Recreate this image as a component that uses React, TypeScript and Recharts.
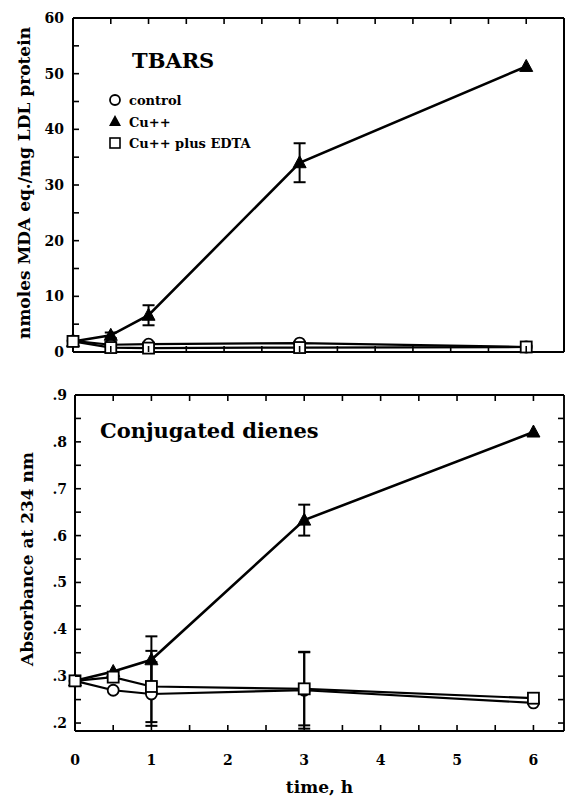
import React from 'react';
import { ComposedChart, Line, XAxis, YAxis, ErrorBar } from 'recharts';

// ---- data ----
const times = [0, 0.5, 1, 3, 6];

const tbarsControl = [2.0, 1.3, 1.4, 1.6, 0.9];
const tbarsCu = [1.9, 3.0, 6.6, 34.0, 51.3];
const tbarsEdta = [1.9, 0.8, 0.7, 0.8, 0.9];
const tbarsCuErr = [0, 0.5, 1.8, 3.5, 0];

const dienesControl = [0.29, 0.27, 0.262, 0.27, 0.243];
const dienesCu = [0.29, 0.31, 0.335, 0.633, 0.821];
const dienesEdta = [0.29, 0.298, 0.278, 0.273, 0.253];
const dienesControlErr = [0, 0, 0.068, 0.082, 0];
const dienesCuErr = [0, 0, 0.05, 0.033, 0];
const dienesEdtaErr = [0, 0, 0.076, 0.078, 0];

const timeTicks = [0, 0.5, 1, 1.5, 2, 2.5, 3, 3.5, 4, 4.5, 5, 5.5, 6];
const tbarsTicks = [0, 5, 10, 15, 20, 25, 30, 35, 40, 45, 50, 55, 60];
const dienesTicks = [0.2, 0.25, 0.3, 0.35, 0.4, 0.45, 0.5, 0.55, 0.6, 0.65, 0.7, 0.75, 0.8, 0.85, 0.9];

const seriesNames = ['control', 'Cu++', 'Cu++ plus EDTA'];
const titles = ['TBARS', 'Conjugated dienes'];
const yLabels = ['nmoles MDA eq./mg LDL protein', 'Absorbance at 234 nm'];
const xLabel = 'time, h';

const tbarsData = times.map((t, i) => ({
  t,
  control: tbarsControl[i],
  cu: tbarsCu[i],
  edta: tbarsEdta[i],
  cuErr: tbarsCuErr[i],
}));

const dienesData = times.map((t, i) => ({
  t,
  control: dienesControl[i],
  cu: dienesCu[i],
  edta: dienesEdta[i],
  controlErr: dienesControlErr[i],
  cuErr: dienesCuErr[i],
  edtaErr: dienesEdtaErr[i],
}));

const tbarsX: [number, number] = [0, 6.5];
const tbarsY: [number, number] = [0, 60];
const dienesX: [number, number] = [0, 6.4];
const dienesY: [number, number] = [0.183, 0.9];

const FONT = '"DejaVu Serif", serif';
const labelStyle = { fontFamily: FONT, fontWeight: 700, fontSize: 14, fill: '#000' };
const INK = '#000';
const TL = 6;

// inward tick + label, rendered by the axis itself
const TickMark = (props: any) => {
  const { x, y, payload, side, fmt, gap } = props;
  const label = fmt ? fmt(payload.value) : '';
  const X = Number(x);
  const Y = Number(y);
  if (side === 'left') {
    return (
      <g>
        <line x1={X} y1={Y} x2={X + TL} y2={Y} stroke={INK} strokeWidth={1.6} />
        {label ? (
          <text x={X - gap} y={Y} textAnchor="end" dominantBaseline="central" style={labelStyle}>
            {label}
          </text>
        ) : null}
      </g>
    );
  }
  if (side === 'right') {
    return <line x1={X} y1={Y} x2={X - TL} y2={Y} stroke={INK} strokeWidth={1.6} />;
  }
  if (side === 'bottom') {
    return (
      <g>
        <line x1={X} y1={Y} x2={X} y2={Y - TL} stroke={INK} strokeWidth={1.6} />
        {label ? (
          <text x={X} y={Y + gap} textAnchor="middle" dominantBaseline="central" style={labelStyle}>
            {label}
          </text>
        ) : null}
      </g>
    );
  }
  return <line x1={X} y1={Y} x2={X} y2={Y + TL} stroke={INK} strokeWidth={1.6} />;
};

const CircleDot = (p: any) =>
  p.cx == null ? null : (
    <circle key={`c${p.index}`} cx={p.cx} cy={p.cy} r={5.5} fill="#fff" stroke="#000" strokeWidth={1.8} />
  );
const TriDot = (p: any) =>
  p.cx == null ? null : (
    <polygon
      key={`t${p.index}`}
      points={`${p.cx},${p.cy - 7} ${p.cx - 6.5},${p.cy + 5} ${p.cx + 6.5},${p.cy + 5}`}
      fill="#000"
      stroke="#000"
      strokeWidth={1}
    />
  );
const SquareDot = (p: any) =>
  p.cx == null ? null : (
    <rect key={`s${p.index}`} x={p.cx - 5.5} y={p.cy - 5.5} width={11} height={11} fill="#fff" stroke="#000" strokeWidth={1.8} />
  );

const YLabel = (props: any) => {
  const vb = props.viewBox || {};
  const cx = vb.x + props.px;
  const cy = vb.y + vb.height / 2 + props.py;
  return (
    <text
      x={cx}
      y={cy}
      transform={`rotate(-90 ${cx} ${cy})`}
      textAnchor="middle"
      dominantBaseline="central"
      style={{ fontFamily: FONT, fontWeight: 700, fontSize: props.fs, fill: '#000' }}
    >
      {props.value}
    </text>
  );
};

const isInt = (v: number) => Math.abs(v - Math.round(v)) < 1e-6;
const fmtTbars = (v: number) => (isInt(v / 10) ? String(v) : '');
const fmtDienes = (v: number) => (isInt(v * 10) ? v.toFixed(1).replace(/^0/, '') : '');
const fmtTime = (v: number) => (isInt(v) ? String(v) : '');

const LegendBlock = () => (
  <g style={{ fontFamily: FONT, fontWeight: 700, fontSize: 13 }}>
    <circle cx={115} cy={100} r={5} fill="#fff" stroke="#000" strokeWidth={1.8} />
    <text x={129} y={105} fill="#000">{seriesNames[0]}</text>
    <polygon points="115,115 109,126 121,126" fill="#000" />
    <text x={129} y={127} fill="#000">{seriesNames[1]}</text>
    <rect x={110} y={138} width={10} height={10} fill="#fff" stroke="#000" strokeWidth={1.6} />
    <text x={129} y={148} fill="#000">{seriesNames[2]}</text>
  </g>
);

// Plot-area frame (box around each panel)
const Frame = (p: { x: number; y: number; w: number; h: number; rw: number }) => (
  <g>
    <line x1={p.x} y1={p.y} x2={p.x + p.w} y2={p.y} stroke={INK} strokeWidth={2} />
    <line x1={p.x + p.w} y1={p.y} x2={p.x + p.w} y2={p.y + p.h} stroke={INK} strokeWidth={p.rw} />
    <line x1={p.x} y1={p.y + p.h} x2={p.x + p.w} y2={p.y + p.h} stroke={INK} strokeWidth={2} />
  </g>
);

const frameAxes = (xd: [number, number], yd: [number, number], yt: number[], allow: boolean) => [
  <XAxis
    key="xt"
    xAxisId="top"
    orientation="top"
    dataKey="t"
    type="number"
    domain={xd}
    ticks={timeTicks}
    interval={0}
    height={1}
    axisLine={{ stroke: INK, strokeWidth: 2 }}
    tickLine={false}
    tickSize={0}
    tickMargin={0}
    tick={<TickMark side="top" />}
  />,
  <YAxis
    key="yr"
    yAxisId="right"
    orientation="right"
    type="number"
    domain={yd}
    ticks={yt}
    interval={0}
    width={1}
    allowDataOverflow={allow}
    axisLine={{ stroke: INK, strokeWidth: 1.5 }}
    tickLine={false}
    tickSize={0}
    tickMargin={0}
    tick={<TickMark side="right" />}
  />,
];

export default function App() {
  return (
    <div style={{ position: 'absolute', left: 0, top: 0, width: 566, height: 797, background: '#fff' }}>
      <div style={{ position: 'absolute', left: 0, top: 0 }}>
        <ComposedChart width={566} height={380} data={tbarsData} margin={{ top: 17, right: 1, bottom: 0, left: 0 }}>
          <XAxis
            dataKey="t"
            type="number"
            domain={tbarsX}
            ticks={timeTicks}
            interval={0}
            height={28}
            axisLine={{ stroke: INK, strokeWidth: 2 }}
            tickLine={false}
            tickSize={0}
            tickMargin={0}
            tick={<TickMark side="bottom" />}
          />
          <YAxis
            type="number"
            domain={tbarsY}
            ticks={tbarsTicks}
            interval={0}
            width={73}
            axisLine={{ stroke: INK, strokeWidth: 2 }}
            tickLine={false}
            tickSize={0}
            tickMargin={0}
            tick={<TickMark side="left" fmt={fmtTbars} gap={9} />}
            label={<YLabel value={yLabels[0]} px={24} py={-2} fs={17} />}
          />
          {frameAxes(tbarsX, tbarsY, tbarsTicks, false)}
          <Frame x={73} y={18} w={491} h={334} rw={2} />
          <Line dataKey="control" stroke="#000" strokeWidth={2.2} dot={CircleDot} isAnimationActive={false} />
          <Line dataKey="cu" stroke="#000" strokeWidth={2.6} dot={TriDot} isAnimationActive={false}>
            <ErrorBar dataKey="cuErr" width={6} stroke="#000" strokeWidth={2} />
          </Line>
          <Line dataKey="edta" stroke="#000" strokeWidth={2.2} dot={SquareDot} isAnimationActive={false} />
          <text x={132} y={68} style={{ fontFamily: FONT, fontWeight: 700, fontSize: 21 }} fill="#000">
            {titles[0]}
          </text>
          <LegendBlock />
        </ComposedChart>
      </div>
      <div style={{ position: 'absolute', left: 0, top: 380 }}>
        <ComposedChart width={566} height={417} data={dienesData} margin={{ top: 14, right: 1, bottom: 0, left: 0 }}>
          <XAxis
            dataKey="t"
            type="number"
            domain={dienesX}
            ticks={timeTicks}
            interval={0}
            height={66}
            axisLine={{ stroke: INK, strokeWidth: 2 }}
            tickLine={false}
            tickSize={0}
            tickMargin={0}
            tick={<TickMark side="bottom" fmt={fmtTime} gap={29} />}
            label={{
              value: xLabel,
              position: 'insideBottom',
              offset: 4,
              style: { fontFamily: FONT, fontWeight: 700, fontSize: 17, fill: '#000' },
            }}
          />
          <YAxis
            type="number"
            domain={dienesY}
            ticks={dienesTicks}
            interval={0}
            width={75}
            allowDataOverflow
            axisLine={{ stroke: INK, strokeWidth: 2 }}
            tickLine={false}
            tickSize={0}
            tickMargin={0}
            tick={<TickMark side="left" fmt={fmtDienes} gap={8} />}
            label={<YLabel value={yLabels[1]} px={27} py={-4} fs={17} />}
          />
          {frameAxes(dienesX, dienesY, dienesTicks, true)}
          <Frame x={75} y={15} w={489} h={336} rw={1.5} />
          <Line dataKey="control" stroke="#000" strokeWidth={2.2} dot={CircleDot} isAnimationActive={false}>
            <ErrorBar dataKey="controlErr" width={6} stroke="#000" strokeWidth={2} />
          </Line>
          <Line dataKey="cu" stroke="#000" strokeWidth={2.6} dot={TriDot} isAnimationActive={false}>
            <ErrorBar dataKey="cuErr" width={6} stroke="#000" strokeWidth={2} />
          </Line>
          <Line dataKey="edta" stroke="#000" strokeWidth={2.2} dot={SquareDot} isAnimationActive={false}>
            <ErrorBar dataKey="edtaErr" width={6} stroke="#000" strokeWidth={2} />
          </Line>
          <text x={100} y={58} style={{ fontFamily: FONT, fontWeight: 700, fontSize: 21 }} fill="#000">
            {titles[1]}
          </text>
        </ComposedChart>
      </div>
    </div>
  );
}
